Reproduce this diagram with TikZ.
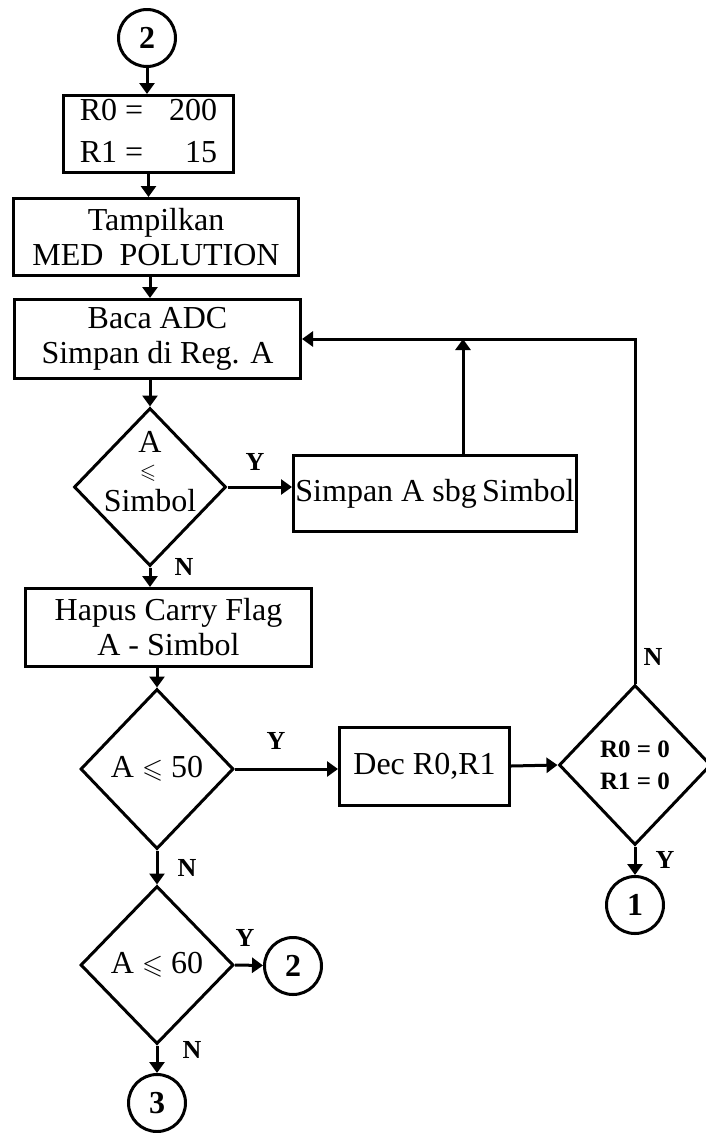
\documentclass[tikz,border=0pt]{standalone}
\usepackage{amssymb}
\usepackage{fontspec}
\setmainfont{Liberation Serif}
\usetikzlibrary{arrows.meta,positioning,shapes.geometric}

\begin{document}
\begin{tikzpicture}[x=1pt,y=1pt,line width=3pt,>={Triangle[width=15pt,length=11pt]},
  font=\fontsize{32}{35}\selectfont,
  b/.style={draw,rectangle,inner sep=0pt,align=center},
  d/.style={draw,diamond,inner sep=0pt},
  c/.style={draw,circle,inner sep=0pt,minimum size=57pt,font=\fontsize{32}{35}\selectfont\bfseries},
  yn/.style={inner sep=0pt,font=\fontsize{26}{28}\selectfont\bfseries}]
\newcommand{\lt}{{\fontsize{27}{27}\selectfont$\leqslant$}}
\useasboundingbox (0,0) rectangle (705,-1133);
% main column
\node[c] (top) at (147,-38) {2};
\node[b,minimum width=170pt,minimum height=75pt] (init) at (148.5,-134)
  {\begin{tabular}{@{}l@{\hspace{26pt}}r@{}}R0 = & 200\\[7pt] R1 = & 15\end{tabular}};
\node[b,minimum width=285pt,minimum height=77pt] (tampil) at (156,-237) {Tampilkan\\MED\ \ POLUTION};
\node[b,minimum width=286pt,minimum height=79pt] (baca) at (157.5,-339) {Baca ADC\\Simpan di Reg. A};
\node[d,minimum width=152pt,minimum height=158pt] (d1) at (150,-487) {};
\node[inner sep=0pt] (d1a) at (150,-442) {A};
\node[inner sep=0pt,font=\fontsize{21}{21}\selectfont] (d1b) at (148,-473) {$\leqslant$};
\node[inner sep=0pt] (d1c) at (150,-501) {Simbol};
\node[b,minimum width=283pt,minimum height=76pt] (simpan) at (435,-493.5) {Simpan A sbg\,Simbol};
\node[b,minimum width=286pt,minimum height=78pt] (hapus) at (168.5,-627.5) {Hapus Carry Flag\\A - Simbol};
\node[d,minimum width=153pt,minimum height=160pt] (d2) at (157,-769) {};
\node[inner sep=0pt] (d2t) at (d2) {A \lt\ 50};
\node[b,minimum width=170pt,minimum height=78pt] (dec) at (424.5,-766) {Dec R0,R1};
\node[d,minimum width=152pt,minimum height=160pt] (d4) at (635,-765) {};
\node[align=center,inner sep=0pt,font=\fontsize{25}{32}\selectfont\bfseries] (d4t) at (d4) {R0 = 0\\R1 = 0};
\node[c] (c1) at (635,-905) {1};
\node[d,minimum width=153pt,minimum height=158pt] (d3) at (157,-965) {};
\node[inner sep=0pt] (d3t) at (d3) {A \lt\ 60};
\node[c] (c2) at (293,-966) {2};
\node[c] (c3) at (157,-1103) {3};
% Y / N
\node[yn] (y1) at (255,-462) {Y};
\node[yn] (n1) at (184,-567) {N};
\node[yn] (y2) at (276,-741) {Y};
\node[yn] (n2) at (187,-868) {N};
\node[yn] (n4) at (653,-657) {N};
\node[yn] (y4) at (665,-860) {Y};
\node[yn] (y3) at (245,-938) {Y};
\node[yn] (n3) at (192,-1050) {N};
% arrows
\draw[->] (top) -- (top |- init.north);
\draw[->] (init.south) -- (init.south |- tampil.north);
\draw[->] ([xshift=-6pt]tampil.south) -- ([xshift=-6pt]tampil.south |- baca.north);
\draw[->] (baca.south -| d1.north) -- (d1.north);
\draw[->] (d1.east) -- (d1.east -| simpan.west);
\draw[->] ([xshift=28pt]simpan.north) -- ([xshift=28pt]simpan.north |- baca.east);
\draw[->] (d1.south) -- (d1.south |- hapus.north);
\draw[->] (hapus.south -| d2.north) -- (d2.north);
\draw[->] (d2.east) -- (d2.east -| dec.west);
\draw[->] (dec.east) -- (d4.west);
\draw[->] (d4.north) |- (baca.east);
\draw[->] (d4.south) -- (c1);
\draw[->] (d2.south) -- (d3.north);
\draw[->] (d3.east) -- (c2);
\draw[->] (d3.south) -- (c3);
\end{tikzpicture}
\end{document}
